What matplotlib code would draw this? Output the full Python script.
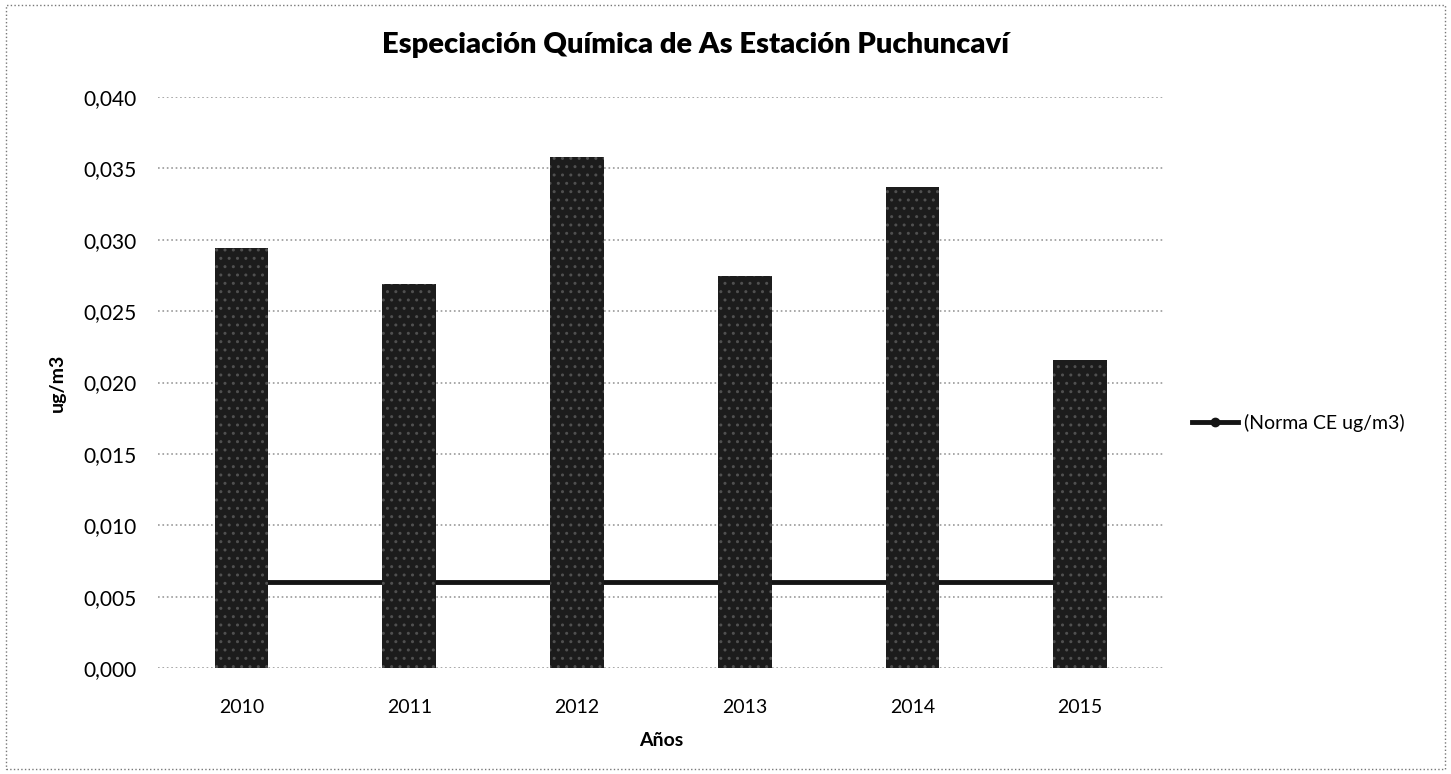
import matplotlib.pyplot as plt
from matplotlib.patches import Rectangle

# Datos
anios = ["2010", "2011", "2012", "2013", "2014", "2015"]
arsenico = [0.0294, 0.0269, 0.0358, 0.0275, 0.0337, 0.0216]
norma_ce = [0.006, 0.006, 0.006, 0.006, 0.006, 0.006]
ticks_y = [0.000, 0.005, 0.010, 0.015, 0.020, 0.025, 0.030, 0.035, 0.040]

plt.rcParams['font.family'] = ['Lato', 'DejaVu Sans']

fig = plt.figure(figsize=(14.51, 7.74), dpi=100)
ax = fig.add_axes([0.1087, 0.137, 0.6935, 0.7375])

x = range(len(anios))
ax.bar(x, arsenico, width=0.32, color='#1c1c1c', edgecolor='#505050',
       hatch='..', linewidth=0, zorder=2)
ax.plot(x, norma_ce, color='#141414', linewidth=3.5, marker='o', markersize=6,
        zorder=1.5, label='(Norma CE ug/m3)')

ax.set_xlim(-0.5, len(anios) - 0.5)
ax.set_ylim(0, 0.040)
ax.set_yticks(ticks_y)
ax.set_yticklabels([f"{v:.3f}".replace('.', ',') for v in ticks_y], fontsize=15)
ax.set_xticks(list(x))
ax.set_xticklabels(anios, fontsize=14)
ax.tick_params(length=0, pad=22)
ax.tick_params(axis='y', pad=15)

ax.grid(axis='y', linestyle=':', color='#9a9a9a', linewidth=1.2, zorder=0)
for s in ax.spines.values():
    s.set_visible(False)

ax.set_xlabel('Años', fontsize=14, fontweight='bold', labelpad=12)
ax.set_ylabel('ug/m3', fontsize=14, fontweight='bold', labelpad=13)

fig.text(0.479, 0.942, 'Especiación Química de As Estación Puchuncaví',
         ha='center', va='center', fontsize=21, fontweight='heavy')

ax.legend(loc='center left', bbox_to_anchor=(1.01, 0.43), frameon=False,
          fontsize=14, handlelength=2.4, handletextpad=0.3)

# Borde punteado del área del gráfico
fig.add_artist(Rectangle((0.004, 0.006), 0.992, 0.988, transform=fig.transFigure,
                         fill=False, linestyle=':', edgecolor='#777777', linewidth=1))

fig.savefig('out.png', dpi=100)
